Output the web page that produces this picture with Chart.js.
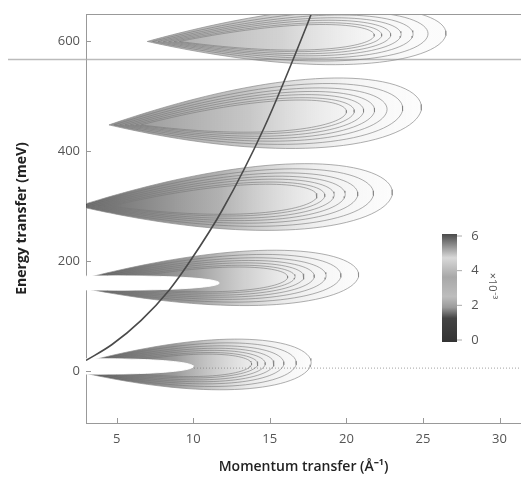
<!DOCTYPE html>
<html>
<head>
<meta charset="utf-8">
<script src="https://cdn.jsdelivr.net/npm/chart.js@4.4.0/dist/chart.umd.min.js"></script>
<style>
  html, body { margin: 0; padding: 0; background: #fff; }
</style>
</head>
<body>
<canvas id="contourChart" width="521" height="478"></canvas>
<script>
// Bands (outer contour of each band)
const bandStartE = [5, 158, 300, 448, 600];     // meV, centre at the narrow left tip
const bandEndE = [15, 175, 325, 480, 615];      // meV, centre at the round right end
const bandStartQ = [1.5, 1.5, 2.5, 4.5, 7.0];   // 1/Å
const bandEndQ = [17.7, 20.8, 23.0, 24.9, 26.5];
const bandHalfHeight = [46, 50, 60, 63, 52];    // meV

// relative size of each contour level, outer to inner
const levelLength = [1, 0.94, 0.89, 0.85, 0.815, 0.785, 0.76];
const levelHeight = [1, 0.86, 0.75, 0.66, 0.58, 0.5, 0.44];

// bright cores of the two lowest bands
const coreStartQ = [-8, -8];
const coreEndQ = [10.0, 11.7];
const coreE = [8, 160];
const coreHalfHeight = [14, 13];

// free recoil line, read at a few points
const recoilQ = [3.0, 4.7, 6.6, 8.4, 9.8, 11.9, 14.6, 17.5, 17.8];
const recoilE = [19, 48, 92, 146, 200, 293, 441, 635, 657];

const xTicks = [5, 10, 15, 20, 25, 30];
const yTicks = [0, 200, 400, 600];
const colorbarTicks = [0, 2, 4, 6];
const baselineE = 5;
const edgeLineE = 567;

// styling
const bandShade = [0.9, 0.85, 0.7, 0.5, 0.4];
const tickFont = { family: '"Open Sans", sans-serif', size: 13 };
const titleFont = { family: '"Open Sans", sans-serif', size: 14, weight: 'bold' };

// closed contour: pointed on the left, rounded on the right
const teardrop = (q0, q1, e0, e1, h) => {
    const n = 48, top = [], bottom = [];
    for (let i = 0; i <= n; i++) {
        const s = Math.sin(Math.PI / 2 * i / n);
        const u = s * s;
        const w = h * u * Math.sqrt(1 - u) / 0.3849;
        const q = q0 + (q1 - q0) * u;
        const e = e0 + (e1 - e0) * u;
        top.push({ x: q, y: e + w });
        bottom.push({ x: q, y: e - w });
    }
    return top.concat(bottom.reverse());
};

const bodyGradient = (chart, q0, q1, a) => {
    const xs = chart.scales.x;
    if (!chart.chartArea || !xs) return 'rgba(0,0,0,0.1)';
    const g = chart.ctx.createLinearGradient(xs.getPixelForValue(q0), 0, xs.getPixelForValue(q1), 0);
    g.addColorStop(0, `rgba(30,30,30,${a})`);
    g.addColorStop(0.45, `rgba(70,70,70,${a * 0.6})`);
    g.addColorStop(0.75, `rgba(140,140,140,${a * 0.2})`);
    g.addColorStop(1, 'rgba(200,200,200,0.05)');
    return g;
};

const line = { showLine: true, pointRadius: 0, pointHoverRadius: 0, borderWidth: 1 };
const datasets = [];

// recoil curve on top
datasets.push({
    ...line,
    data: recoilQ.map((q, i) => ({ x: q, y: recoilE[i] })),
    borderColor: '#4a4a4a',
    borderWidth: 1.6,
    cubicInterpolationMode: 'monotone',
    order: 0
});

// dotted baseline
datasets.push({
    ...line,
    data: [{ x: 3, y: baselineE }, { x: 31.4, y: baselineE }],
    borderColor: 'rgba(120,120,120,0.7)',
    borderDash: [1, 2],
    order: 2
});

coreEndQ.forEach((q1, c) => {
    datasets.push({
        ...line,
        data: teardrop(coreStartQ[c], q1, coreE[c], coreE[c], coreHalfHeight[c]),
        borderColor: 'rgba(255,255,255,0.9)',
        backgroundColor: '#fff',
        fill: 'shape',
        order: 1
    });
});

bandStartQ.forEach((q0, b) => {
    const q1 = bandEndQ[b];
    datasets.push({
        ...line,
        data: teardrop(q0, q1, bandStartE[b], bandEndE[b], bandHalfHeight[b]),
        borderColor: 'rgba(140,140,140,0.7)',
        backgroundColor: (c) => bodyGradient(c.chart, q0, q1, bandShade[b]),
        fill: 'shape',
        order: 4
    });
    levelLength.forEach((len, k) => {
        if (k === 0) return;
        const ek1 = bandStartE[b] + (bandEndE[b] - bandStartE[b]) * len;
        datasets.push({
            ...line,
            data: teardrop(q0 + 0.35 * k, q0 + (q1 - q0) * len, bandStartE[b], ek1, bandHalfHeight[b] * levelHeight[k]),
            borderColor: 'rgba(120,120,120,0.6)',
            fill: false,
            order: 3
        });
    });
});

// inner tick marks, top frame line and the faint line near 570 meV
const frame = {
    id: 'frame',
    beforeDatasetsDraw(chart) {
        const { ctx, chartArea, scales } = chart;
        const y = scales.y.getPixelForValue(edgeLineE);
        ctx.save();
        ctx.strokeStyle = 'rgba(170,170,170,0.8)';
        ctx.lineWidth = 1.5;
        ctx.beginPath();
        ctx.moveTo(8, y);
        ctx.lineTo(chartArea.right, y);
        ctx.stroke();
        ctx.restore();
    },
    afterDraw(chart) {
        const { ctx, chartArea, scales } = chart;
        ctx.save();
        ctx.strokeStyle = '#999';
        ctx.lineWidth = 1;
        ctx.beginPath();
        ctx.moveTo(chartArea.left, chartArea.top + 0.5);
        ctx.lineTo(chartArea.right, chartArea.top + 0.5);
        xTicks.forEach(v => {
            const x = Math.round(scales.x.getPixelForValue(v)) + 0.5;
            ctx.moveTo(x, chartArea.bottom);
            ctx.lineTo(x, chartArea.bottom - 5);
        });
        yTicks.forEach(v => {
            const y = Math.round(scales.y.getPixelForValue(v)) + 0.5;
            ctx.moveTo(chartArea.left, y);
            ctx.lineTo(chartArea.left + 5, y);
        });
        ctx.stroke();
        ctx.restore();
    }
};

// grey-scale colour bar, ×10^-3
const colorbar = {
    id: 'colorbar',
    afterDraw(chart) {
        const ctx = chart.ctx;
        const x0 = 442, x1 = 457, yTop = 234, yBot = 342;
        const pos = v => yBot - 2 - (v / 6) * (yBot - yTop - 4);
        const g = ctx.createLinearGradient(0, yTop, 0, yBot);
        g.addColorStop(0, '#4a4a4a');
        g.addColorStop(0.1, '#8a8a8a');
        g.addColorStop(0.22, '#d8d8d8');
        g.addColorStop(0.4, '#a8a8a8');
        g.addColorStop(0.58, '#bdbdbd');
        g.addColorStop(0.68, '#9a9a9a');
        g.addColorStop(0.78, '#444');
        g.addColorStop(1, '#333');
        ctx.save();
        ctx.fillStyle = g;
        ctx.fillRect(x0, yTop, x1 - x0, yBot - yTop);
        ctx.strokeStyle = '#aaa';
        ctx.fillStyle = '#555';
        ctx.font = '13px "Open Sans", sans-serif';
        ctx.textAlign = 'center';
        ctx.textBaseline = 'middle';
        colorbarTicks.forEach(v => {
            const y = pos(v);
            ctx.beginPath();
            ctx.moveTo(x1, y);
            ctx.lineTo(x1 + 5, y);
            ctx.stroke();
            ctx.fillText(String(v), 475, y);
        });
        ctx.translate(492, 286);
        ctx.rotate(Math.PI / 2);
        ctx.font = '11px "Open Sans", sans-serif';
        ctx.fillText('×10⁻³', 0, 0);
        ctx.restore();
    }
};

const ctx = document.getElementById('contourChart').getContext('2d');
const contourChart = new Chart(ctx, {
    type: 'scatter',
    data: { datasets },
    options: {
        responsive: false,
        animation: false,
        layout: { padding: { top: 14, right: 0, left: 0, bottom: 0 } },
        plugins: {
            legend: { display: false },
            tooltip: { enabled: false }
        },
        scales: {
            x: {
                type: 'linear',
                min: 3,
                max: 31.4,
                afterBuildTicks: s => { s.ticks = xTicks.map(v => ({ value: v })); },
                afterFit: s => { s.height = 55; },
                grid: { display: false, drawTicks: false },
                border: { color: '#999' },
                ticks: { padding: 8, color: '#555', font: tickFont },
                title: {
                    display: true,
                    text: 'Momentum transfer (Å⁻¹)',
                    color: '#222',
                    font: { ...titleFont, weight: '600' },
                    padding: { top: 0, bottom: 3 }
                }
            },
            y: {
                type: 'linear',
                min: -95,
                max: 650,
                afterBuildTicks: s => { s.ticks = yTicks.map(v => ({ value: v })); },
                afterFit: s => { s.width = 86; },
                grid: { display: false, drawTicks: false },
                border: { color: '#999' },
                ticks: { padding: 6, color: '#555', font: tickFont },
                title: {
                    display: true,
                    text: 'Energy transfer (meV)',
                    color: '#222',
                    font: titleFont,
                    padding: { top: 14, bottom: 0 }
                }
            }
        }
    },
    plugins: [frame, colorbar]
});
</script>
</body>
</html>
